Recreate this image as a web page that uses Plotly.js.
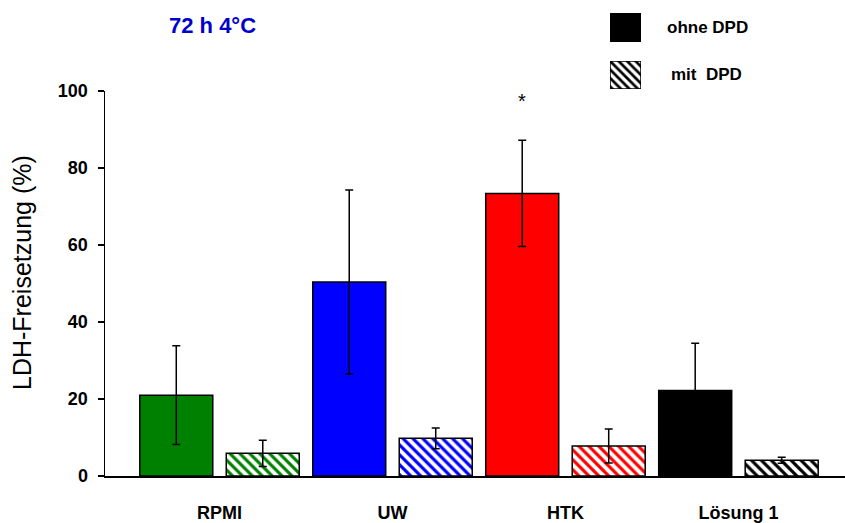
<!DOCTYPE html>
<html>
<head>
<meta charset="utf-8">
<script src="https://cdn.plot.ly/plotly-3.0.1.min.js"></script>
<style>html,body{margin:0;padding:0;background:#fff;}#chart{width:845px;height:523px;}</style>
</head>
<body>
<div id="chart"></div>
<script>
// ---- data ----
var categories = ['RPMI', 'UW', 'HTK', 'Lösung 1'];
var ohneDPD = [21.0, 50.4, 73.4, 22.2];
var ohneDPDErr = [12.8, 23.9, 13.8, 12.3];
var mitDPD = [5.9, 9.8, 7.8, 4.1];
var mitDPDErr = [3.4, 2.7, 4.4, 0.8];
var barColors = ['#008000', '#0000FF', '#FF0000', '#000000'];
var legendLabels = ['ohne DPD', 'mit  DPD'];
var titleText = '72 h 4°C';
var yTitle = 'LDH-Freisetzung (%)';
var significance = {category: 'HTK', text: '*', value: 97.5};

var FONT = 'Liberation Sans, Arial, sans-serif';

var traceOhne = {
  type: 'bar', name: legendLabels[0], x: categories, y: ohneDPD,
  marker: {color: barColors, line: {color: '#000', width: 1.5}},
  error_y: {type: 'data', array: ohneDPDErr, visible: true, color: '#000', thickness: 1.5, width: 4},
  showlegend: false, hoverinfo: 'none'
};
var traceMit = {
  type: 'bar', name: legendLabels[1], x: categories, y: mitDPD,
  marker: {color: '#fff', line: {color: '#000', width: 1.5},
    pattern: {shape: '\\', fgcolor: barColors, bgcolor: '#fff', size: 7, solidity: 0.45}},
  error_y: {type: 'data', array: mitDPDErr, visible: true, color: '#000', thickness: 1.5, width: 4},
  showlegend: false, hoverinfo: 'none'
};
// legend boxes: one full-cell bar on each of two small overlay subplots
var legendSolid = {
  type: 'bar', x: [0], y: [1], width: 1, xaxis: 'x2', yaxis: 'y2',
  marker: {color: '#000', line: {color: '#000', width: 1.5}},
  showlegend: false, hoverinfo: 'none'
};
var legendHatch = {
  type: 'bar', x: [0], y: [1], width: 1, xaxis: 'x3', yaxis: 'y3',
  marker: {color: '#fff', line: {color: '#000', width: 1.5},
    pattern: {shape: '\\', fgcolor: '#000', bgcolor: '#fff', size: 6, solidity: 0.45}},
  showlegend: false, hoverinfo: 'none'
};

var W = 845, H = 523;
var boxAxis = {visible: false, fixedrange: true};
var layout = {
  width: W, height: H,
  margin: {l: 0, r: 0, t: 0, b: 0},
  paper_bgcolor: '#fff', plot_bgcolor: 'rgba(0,0,0,0)',
  font: {family: FONT, color: '#000'},
  barmode: 'group', bargap: 0, bargroupgap: 0.156,
  showlegend: false,
  xaxis: {
    domain: [105 / W, 1], range: [-0.662, 3.616], type: 'category',
    showline: true, linecolor: '#000', linewidth: 1.5, ticks: '', showgrid: false, zeroline: false,
    tickfont: {family: FONT, size: 18, color: '#000', weight: 'bold'},
    ticklabelstandoff: 20, fixedrange: true
  },
  yaxis: {
    domain: [47 / H, 432 / H], range: [0, 100], tickvals: [0, 20, 40, 60, 80, 100],
    showline: true, linecolor: '#000', linewidth: 1.5, ticks: 'outside', ticklen: 6, tickwidth: 1.5, tickcolor: '#000',
    showgrid: false, zeroline: false,
    tickfont: {family: FONT, size: 18, color: '#000', weight: 'bold'},
    ticklabelstandoff: 6, fixedrange: true
  },
  xaxis2: Object.assign({domain: [610 / W, 641 / W], range: [-0.5, 0.5], anchor: 'y2'}, boxAxis),
  yaxis2: Object.assign({domain: [(H - 42) / H, (H - 13) / H], range: [0, 1], anchor: 'x2'}, boxAxis),
  xaxis3: Object.assign({domain: [610 / W, 641 / W], range: [-0.5, 0.5], anchor: 'y3'}, boxAxis),
  yaxis3: Object.assign({domain: [(H - 89) / H, (H - 61) / H], range: [0, 1], anchor: 'x3'}, boxAxis),
  annotations: [
    {text: titleText, xref: 'paper', yref: 'paper', x: 212 / W, y: (H - 25) / H, xanchor: 'center', yanchor: 'middle',
      showarrow: false, font: {family: FONT, size: 22, color: '#0000CC', weight: 'bold'}},
    {text: yTitle, xref: 'paper', yref: 'paper', x: 22 / W, y: (H - 273) / H, xanchor: 'center', yanchor: 'middle',
      textangle: -90, showarrow: false, font: {family: FONT, size: 25, color: '#000'}},
    {text: legendLabels[0], xref: 'paper', yref: 'paper', x: 665 / W, y: (H - 27.5) / H, xanchor: 'left', yanchor: 'middle',
      showarrow: false, font: {family: FONT, size: 17, color: '#000', weight: 'bold'}},
    {text: legendLabels[1].replace(/ /g, '&nbsp;'), xref: 'paper', yref: 'paper', x: 669 / W, y: (H - 75) / H, xanchor: 'left', yanchor: 'middle',
      showarrow: false, font: {family: FONT, size: 17, color: '#000', weight: 'bold'}},
    {text: significance.text, xref: 'x', yref: 'y', x: significance.category, y: significance.value, xshift: -43,
      xanchor: 'center', yanchor: 'middle', showarrow: false, font: {family: FONT, size: 20, color: '#000'}}
  ]
};

Plotly.newPlot('chart', [traceOhne, traceMit, legendSolid, legendHatch], layout, {staticPlot: true, displayModeBar: false});
</script>
</body>
</html>
